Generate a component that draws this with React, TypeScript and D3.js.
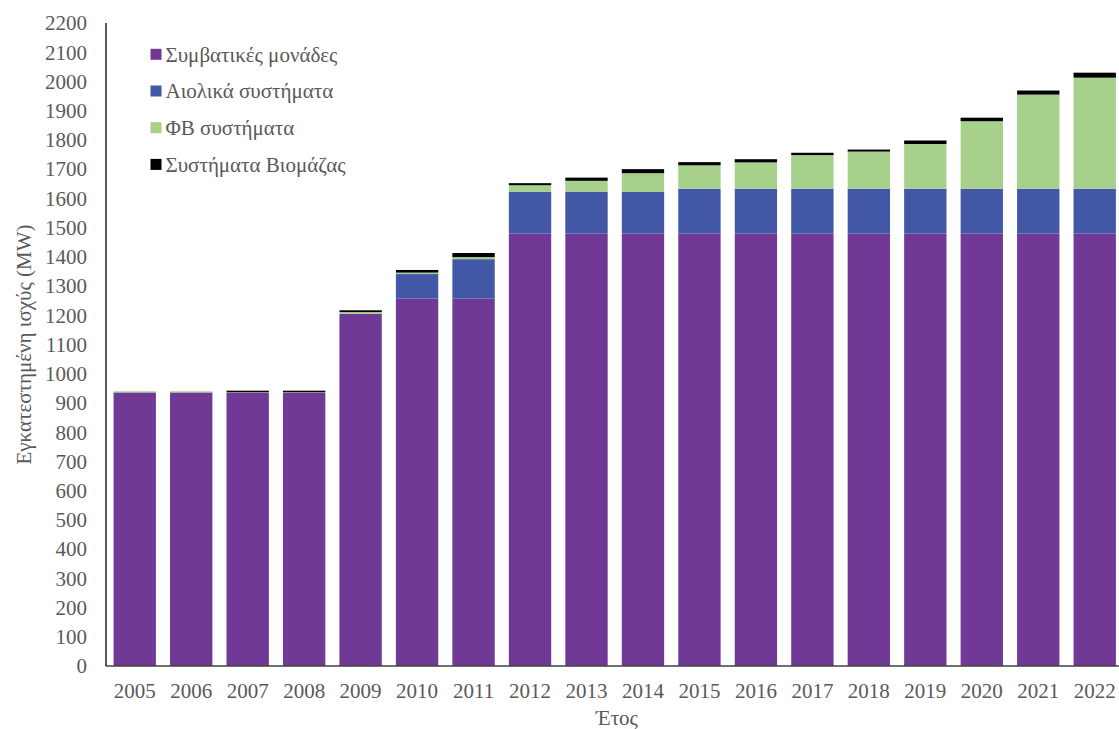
import React from "react";
import * as d3 from "d3";

const years = ["2005","2006","2007","2008","2009","2010","2011","2012","2013","2014","2015","2016","2017","2018","2019","2020","2021","2022"];
const conventional = [936, 936, 936, 936, 1205, 1257, 1257, 1480, 1480, 1480, 1480, 1480, 1480, 1480, 1480, 1480, 1480, 1480];
const wind = [0, 0, 0, 0, 0, 84, 135, 143, 143, 143, 153, 153, 153, 153, 153, 153, 153, 153];
const pv = [4, 4, 1, 1, 6, 5, 7, 22, 37, 63, 80, 90, 115, 127, 153, 231, 322, 380];
const biomass = [0, 0, 5, 5, 6, 9, 14, 7, 11, 14, 11, 11, 8, 7, 12, 12, 14, 17];
const seriesNames = ["Συμβατικές μονάδες", "Αιολικά συστήματα", "ΦΒ συστήματα", "Συστήματα Βιομάζας"];
const seriesColors = ["#703996", "#4257a5", "#a7d08c", "#000000"];
const yTicks = d3.range(0, 2201, 100);

export default function App() {
  const W = 1119, H = 729;
  const x = d3.scaleBand<string>().domain(years).range([106.5, 106.5 + 18 * 56.47]).paddingInner(0.25).paddingOuter(0.125);
  const y = d3.scaleLinear().domain([0, 2200]).range([666, 23]);
  const table = years.map((yr, i) => ({ year: yr, s0: conventional[i], s1: wind[i], s2: pv[i], s3: biomass[i] }));
  const stack = d3.stack<any>().keys(["s0", "s1", "s2", "s3"])(table);
  const font = "'Liberation Serif', 'Times New Roman', 'DejaVu Serif', serif";
  return (
    <svg width={W} height={H} style={{ position: "absolute", left: 0, top: 0, background: "#fff" }}>
      {stack.map((layer, li) => (
        <g key={li} fill={seriesColors[li]}>
          {layer.map((d, i) => {
            const h = y(d[0]) - y(d[1]);
            if (h <= 0) return null;
            return <rect key={i} x={x(years[i])} width={x.bandwidth()} y={y(d[1])} height={h} />;
          })}
        </g>
      ))}
      <line x1={106} x2={W} y1={y(0)} y2={y(0)} stroke="#404040" strokeWidth={1.5} />
      <line x1={106} x2={106} y1={y(2200)} y2={y(0)} stroke="#202020" strokeWidth={1.5} />
      {yTicks.map((t) => (
        <text key={t} x={87} y={y(t)} dy="0.35em" textAnchor="end" fontFamily={font} fontSize={21} fill="#595959">{t}</text>
      ))}
      {years.map((yr) => (
        <text key={yr} x={(x(yr) as number) + x.bandwidth() / 2} y={691} dy="0.35em" textAnchor="middle" fontFamily={font} fontSize={21} fill="#595959">{yr}</text>
      ))}
      <text x={617} y={718} dy="0.35em" textAnchor="middle" fontFamily={font} fontSize={21} fill="#595959">Έτος</text>
      <text transform={`translate(24,${(y(0) + y(2200)) / 2}) rotate(-90)`} dy="0.35em" textAnchor="middle" fontFamily={font} fontSize={21} fill="#595959">Εγκατεστημένη ισχύς (MW)</text>
      {seriesNames.map((n, i) => (
        <g key={n} transform={`translate(150.5,${54.3 + i * 36.7})`}>
          <rect x={0} y={-5.5} width={11} height={11} fill={seriesColors[i]} />
          <text x={15} y={0} dy="0.35em" fontFamily={font} fontSize={21} fill="#595959">{n}</text>
        </g>
      ))}
    </svg>
  );
}
